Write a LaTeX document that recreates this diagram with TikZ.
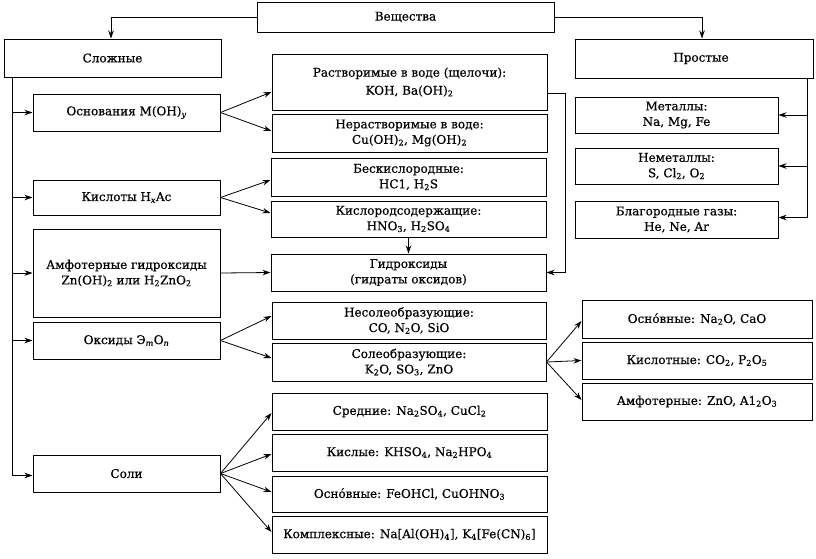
\documentclass[tikz,border=0pt]{standalone}
\usepackage{fontspec}
\setmainfont{DejaVu Serif}
\newfontfamily\reffont{DejaVu Serif}[FakeBold=0.5]
\usetikzlibrary{arrows.meta}
\newcommand{\sbs}[1]{\textsubscript{#1}}
\newcommand{\isbs}[1]{\textsubscript{\itshape #1}}
\begin{document}
\begin{tikzpicture}[x=1pt,y=-1pt,
  box/.style={draw, line width=1pt, inner sep=1pt, align=center,
    font=\reffont\fontsize{12}{15.5}\selectfont},
  arr/.style={-{Stealth[length=8pt,width=5.5pt]}, line width=0.8pt},
  ln/.style={line width=0.8pt}]
\useasboundingbox (0,0) rectangle (816,558);
% top
\node[box, minimum width=297pt, minimum height=30pt] (top) at (405.5,17) {Вещества};
\node[box, minimum width=217pt, minimum height=38pt] (slozh) at (112.5,58) {Сложные};
\node[box, minimum width=238pt, minimum height=39pt] (prost) at (694,58.5) {\hspace*{14pt}Простые};
% left column
\node[box, minimum width=187pt, minimum height=37pt] (osn) at (126.5,112.5) {Основания M(OH)\isbs{y}};
\node[box, minimum width=187pt, minimum height=35pt] (kisl) at (126.5,197.5) {Кислоты H\isbs{x}Ac};
\node[box, minimum width=187pt, minimum height=88pt] (amf) at (126.5,273) {Амфотерные гидроксиды\\Zn(OH)\sbs{2} или H\sbs{2}ZnO\sbs{2}};
\node[box, minimum width=187pt, minimum height=37pt] (oks) at (126.5,340.5) {Оксиды Э\isbs{m}O\isbs{n}};
\node[box, minimum width=187pt, minimum height=37pt] (soli) at (126.5,473.5) {Соли};
% middle column
\node[box, minimum width=275pt, minimum height=56pt, font=\reffont\fontsize{12}{18}\selectfont] (rastv) at (409.5,82) {Растворимые в воде (щелочи):\\KOH, Ba(OH)\sbs{2}};
\node[box, minimum width=275pt, minimum height=38pt] (nerastv) at (409.5,133) {Нерастворимые в воде:\\Cu(OH)\sbs{2}, Mg(OH)\sbs{2}};
\node[box, minimum width=275pt, minimum height=38pt] (bes) at (408.5,177) {Бескислородные:\\HC1, H\sbs{2}S};
\node[box, minimum width=275pt, minimum height=36pt] (kislorod) at (408.5,219) {Кислородсодержащие:\\HNO\sbs{3}, H\sbs{2}SO\sbs{4}};
\node[box, minimum width=275pt, minimum height=37pt] (gidr) at (408.5,272.5) {Гидроксиды\\(гидраты оксидов)};
\node[box, minimum width=274pt, minimum height=37pt] (nesol) at (409,320.5) {Несолеобразующие:\\CO, N\sbs{2}O, SiO};
\node[box, minimum width=274pt, minimum height=38pt] (sol) at (409,362) {Солеобразующие:\\K\sbs{2}O, SO\sbs{3}, ZnO};
\node[box, minimum width=275pt, minimum height=37pt] (sred) at (409.5,411.5) {Средние: Na\sbs{2}SO\sbs{4}, CuCl\sbs{2}};
\node[box, minimum width=275pt, minimum height=37pt] (kislye) at (409.5,452.5) {Кислые: KHSO\sbs{4}, Na\sbs{2}HPO\sbs{4}};
\node[box, minimum width=275pt, minimum height=36pt] (osnsol) at (409.5,494) {Осно́вные: FeOHCl, CuOHNO\sbs{3}};
\node[box, minimum width=275pt, minimum height=37pt] (kompl) at (409.5,534.5) {Комплексные: Na[Al(OH)\sbs{4}], K\sbs{4}[Fe(CN)\sbs{6}]};
% right column
\node[box, minimum width=203pt, minimum height=36pt] (met) at (676.5,115) {Металлы:\\Na, Mg, Fe};
\node[box, minimum width=203pt, minimum height=36pt] (nemet) at (676.5,166) {Неметаллы:\\S, Cl\sbs{2}, O\sbs{2}};
\node[box, minimum width=203pt, minimum height=37pt] (blag) at (676.5,219.5) {Благородные газы:\\He, Ne, Ar};
\node[box, minimum width=230pt, minimum height=38pt] (osnoks) at (697,319) {Осно́вные: Na\sbs{2}O, CaO};
\node[box, minimum width=230pt, minimum height=37pt] (kisloks) at (697,360.5) {Кислотные: CO\sbs{2}, P\sbs{2}O\sbs{5}};
\node[box, minimum width=230pt, minimum height=37pt] (amfoks) at (697,401.5) {Амфотерные: ZnO, A1\sbs{2}O\sbs{3}};
% connectors from top
\draw[arr] (top.west) -| ([xshift=-1.5pt]slozh.north);
\draw[arr] (top.east) -| ([xshift=8pt]prost.north);
% left trunk
\coordinate (tl) at (12,77);
\draw[arr] (tl) |- ([yshift=-2pt]soli.west);
\draw[arr] (tl |- osn.west) -- (osn.west);
\draw[arr] (tl |- kisl.west) -- (kisl.west);
\draw[arr] (tl |- amf.west) -- (amf.west);
\draw[arr] (tl |- oks.west) -- (oks.west);
% right trunk
\coordinate (tr) at (807,78);
\draw[arr] (tr) |- ([yshift=2pt]blag.east);
\draw[arr] (tr |- met.east) -- (met.east);
\draw[arr] (tr |- nemet.east) -- (nemet.east);
% bases
\draw[arr] (osn.east) -- ([yshift=-10pt]rastv.west);
\draw[arr] (osn.east) -- ([yshift=2pt]nerastv.west);
% acids
\draw[arr] (kisl.east) -- ([yshift=-3pt]bes.west);
\draw[arr] (kisl.east) -- ([yshift=6pt]kislorod.west);
\draw[arr] (kislorod.south) -- (gidr.north);
\draw[arr] ([yshift=-11pt]rastv.east) -- ++(18pt,0) |- (gidr.east);
\draw[arr] (amf.east) -- (gidr.west);
% oxides
\draw[arr] (oks.east) -- ([yshift=4.5pt]nesol.west);
\draw[arr] (oks.east) -- ([yshift=4pt]sol.west);
\draw[arr] (sol.east) -- ([yshift=-2pt]osnoks.west);
\draw[arr] (sol.east) -- (kisloks.west);
\draw[arr] (sol.east) -- ([yshift=1.5pt]amfoks.west);
% salts
\draw[arr] (soli.east) -- ([yshift=-1.5pt]sred.west);
\draw[arr] (soli.east) -- ([yshift=-1.5pt]kislye.west);
\draw[arr] (soli.east) -- ([yshift=2pt]osnsol.west);
\draw[arr] (soli.east) -- ([yshift=2.5pt]kompl.west);
\end{tikzpicture}
\end{document}
